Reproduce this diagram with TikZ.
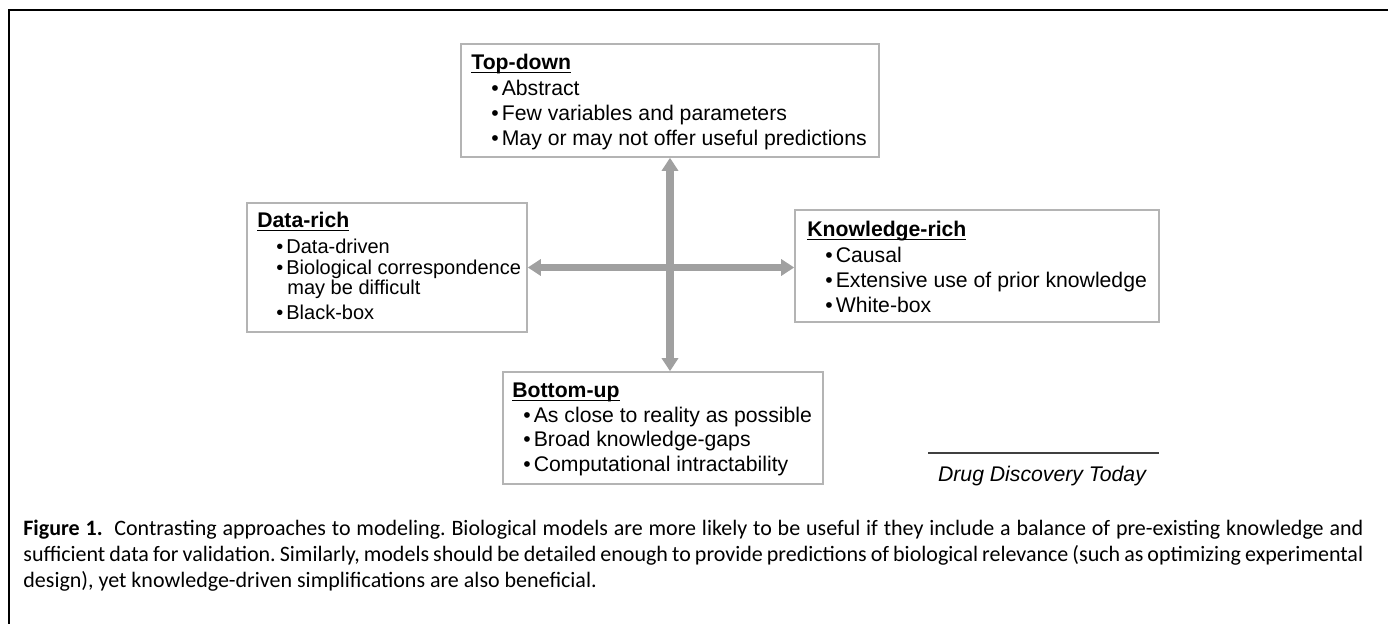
\documentclass[tikz,border=0pt]{standalone}
\usepackage{fontspec}
\setmainfont{Liberation Sans}
\newfontfamily\capfont{Carlito}
\usetikzlibrary{arrows.meta,fit}
\newcommand\boxtitle[1]{\setbox0\hbox{\textbf{#1}}\rlap{\rule[-1.6pt]{\wd0}{0.75pt}}\box0}
\begin{document}
\begin{tikzpicture}[x=0.5pt,y=-0.5pt,
  box/.style={draw=boxgray, line width=0.8pt, inner sep=0pt, fill=none},
  lbl/.style={anchor=base west, inner sep=0pt, font=\fontsize{10.6}{12}\selectfont},
  lbls/.style={anchor=base west, inner sep=0pt, font=\fontsize{10}{12}\selectfont},
  dblarrow/.style={draw=arrowgray, line width=3.6pt,
     {Triangle[width=8pt,length=6.5pt]}-{Triangle[width=8pt,length=6.5pt]}},
  frame/.style={line width=1pt, draw=black}]
\definecolor{boxgray}{HTML}{B4B4B4}
\definecolor{arrowgray}{HTML}{A0A0A0}
\definecolor{srcgray}{HTML}{404040}
\useasboundingbox (0,0) rectangle (1388,624);
% outer frame (top and left)
\coordinate (fbl) at (9,624);
\coordinate (ftl) at (9,10);
\coordinate (ftr) at (1388,10);
\draw[frame] (fbl) -- (ftl) -- (ftr);
% boxes
\node[box, fit={(461,44) (879,157)}] (td) {};
\node[box, fit={(247,203) (527,332)}] (dr) {};
\node[box, fit={(795,210) (1159,322)}] (kr) {};
\node[box, fit={(503,372) (823,484)}] (bu) {};
% arrows
\draw[dblarrow] (td.south) -- (td.south |- bu.north);
\draw[dblarrow] (dr.east) -- (dr.east -| kr.west);
% Top-down
\node[lbl] (tdt) at (471,70) {\boxtitle{Top-down}};
\node[lbl] (td1) at (491,96) {\textbullet\hspace{1.5pt}Abstract};
\node[lbl] (td2) at (491,121) {\textbullet\hspace{1.5pt}Few variables and parameters};
\node[lbl] (td3) at (491,146) {\textbullet\hspace{1.5pt}May or may not offer useful predictions};
% Data-rich
\node[lbl] (drt) at (257,228) {\boxtitle{Data-rich}};
\node[lbls] (dr1) at (276,254) {\textbullet\hspace{1.5pt}Data-driven};
\node[lbls] (dr2) at (276,275) {\textbullet\hspace{1.5pt}Biological correspondence};
\node[lbls] (dr2c) at (287,295) {may be difficult};
\node[lbls] (dr3) at (276,320) {\textbullet\hspace{1.5pt}Black-box};
% Knowledge-rich
\node[lbl] (krt) at (807,237) {\boxtitle{Knowledge-rich}};
\node[lbl] (kr1) at (825,263) {\textbullet\hspace{1.5pt}Causal};
\node[lbl] (kr2) at (825,288) {\textbullet\hspace{1.5pt}Extensive use of prior knowledge};
\node[lbl] (kr3) at (825,313) {\textbullet\hspace{1.5pt}White-box};
% Bottom-up
\node[lbl] (but) at (512,398) {\boxtitle{Bottom-up}};
\node[lbl] (bu1) at (523,423) {\textbullet\hspace{1.5pt}As close to reality as possible};
\node[lbl] (bu2) at (523,447) {\textbullet\hspace{1.5pt}Broad knowledge-gaps};
\node[lbl] (bu3) at (523,472) {\textbullet\hspace{1.5pt}Computational intractability};
% source
\coordinate (sl) at (928,453);
\coordinate (sr) at (1159,453);
\draw[draw=srcgray, line width=1.1pt] (sl) -- (sr);
\node[anchor=base, inner sep=0pt, font=\fontsize{10.6}{12}\selectfont\itshape] (src) at (1042,482) {Drug Discovery Today};
% caption
\node[anchor=north west, inner sep=0pt, align=left,
      font=\capfont\fontsize{11}{13}\selectfont\frenchspacing] (cap) at (23,520)
 {\makebox[670pt][s]{\textbf{Figure 1.}\ \ Contrasting approaches to modeling. Biological models are more likely to be useful if they include a balance of pre-existing knowledge and}\\
 \makebox[670pt][s]{sufficient data for validation. Similarly, models should be detailed enough to provide predictions of biological relevance (such as optimizing experimental}\\
 design), yet knowledge-driven simplifications are also beneficial.};
\end{tikzpicture}
\end{document}
